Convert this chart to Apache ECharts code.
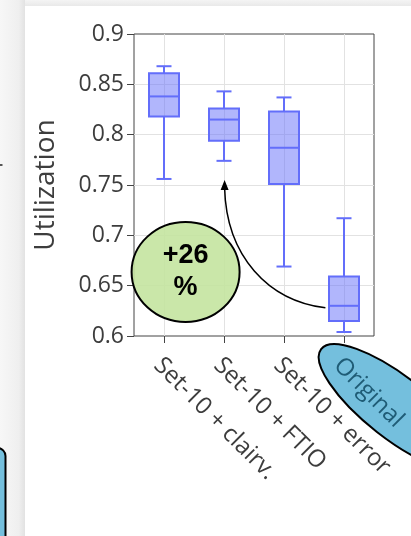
<!DOCTYPE html>
<html>
<head>
<meta charset="utf-8">
<script src="https://cdn.jsdelivr.net/npm/echarts@6/dist/echarts.min.js"></script>
<style>
  html, body { margin: 0; padding: 0; background: #fff; }
  #chart { width: 411px; height: 536px; }
</style>
</head>
<body>
<div id="chart"></div>
<script>
// Utilization per configuration (box plot statistics)
const categories = ['Set-10 + clairv.', 'Set-10 + FTIO', 'Set-10 + error', 'Original'];
const whiskerLow  = [0.756, 0.774, 0.669, 0.604];
const quartile1   = [0.818, 0.794, 0.751, 0.615];
const medians     = [0.838, 0.815, 0.787, 0.630];
const quartile3   = [0.861, 0.826, 0.823, 0.659];
const whiskerHigh = [0.868, 0.843, 0.837, 0.717];
const yTickLabels = ['0.6', '0.65', '0.7', '0.75', '0.8', '0.85', '0.9'];
const gainText = '+26\n%';

const FONT = '"Open Sans", sans-serif';
const TEXT = '#3d3d3d';
const LINE = '#636efa';
const FILL = 'rgba(99,110,250,0.5)';

const boxData = categories.map((c, i) =>
  [i, whiskerLow[i], quartile1[i], medians[i], quartile3[i], whiskerHigh[i]]);

function renderBox(params, api) {
  const i = api.value(0);
  const lo = api.coord([i, api.value(1)]);
  const q1 = api.coord([i, api.value(2)]);
  const md = api.coord([i, api.value(3)]);
  const q3 = api.coord([i, api.value(4)]);
  const hi = api.coord([i, api.value(5)]);
  const band = api.size([1, 0])[0];
  const half = band * 0.25;
  const cap = band * 0.125;
  const x = lo[0];
  const ls = { stroke: LINE, lineWidth: 2 };
  return {
    type: 'group',
    children: [
      { type: 'line', shape: { x1: x, y1: lo[1], x2: x, y2: q1[1] }, style: ls },
      { type: 'line', shape: { x1: x, y1: q3[1], x2: x, y2: hi[1] }, style: ls },
      { type: 'line', shape: { x1: x - cap, y1: lo[1], x2: x + cap, y2: lo[1] }, style: ls },
      { type: 'line', shape: { x1: x - cap, y1: hi[1], x2: x + cap, y2: hi[1] }, style: ls },
      { type: 'rect', shape: { x: x - half, y: q3[1], width: 2 * half, height: q1[1] - q3[1] },
        style: { fill: FILL, stroke: LINE, lineWidth: 2 } },
      { type: 'line', shape: { x1: x - half, y1: md[1], x2: x + half, y2: md[1] }, style: ls }
    ]
  };
}

const chart = echarts.init(document.getElementById('chart'), null, { renderer: 'canvas' });

chart.setOption({
  backgroundColor: '#ffffff',
  animation: false,
  grid: {
    left: 134, top: 34, width: 240, height: 302,
    containLabel: false, outerBoundsMode: 'none',
    show: true, borderColor: '#444', borderWidth: 1, backgroundColor: 'transparent'
  },
  xAxis: {
    type: 'category',
    data: categories.map(c => c === 'Original'
      ? { value: c, textStyle: { color: '#1f5c76' } }
      : c),
    axisLine: { show: false },
    axisTick: { show: true, alignWithLabel: true, length: 7, lineStyle: { color: '#444' } },
    axisLabel: {
      interval: 0, rotate: -45, margin: 32, padding: [0, 0, 0, -9],
      fontFamily: FONT, fontSize: 24, color: TEXT
    },
    splitLine: { show: true, alignWithLabel: true, lineStyle: { color: '#e2e2e2', width: 1 } }
  },
  yAxis: {
    type: 'value',
    min: 0.6, max: 0.9, interval: 0.05,
    name: 'Utilization',
    nameLocation: 'middle',
    nameGap: 74,
    nameTextStyle: { fontFamily: FONT, fontSize: 28, color: TEXT },
    axisLine: { show: false },
    axisTick: { show: true, length: 7, lineStyle: { color: '#444' } },
    axisLabel: {
      margin: 10, fontFamily: FONT, fontSize: 23, color: TEXT,
      formatter: v => yTickLabels[Math.round((v - 0.6) / 0.05)]
    },
    splitLine: { show: true, showMinLine: false, showMaxLine: false,
      lineStyle: { color: '#e2e2e2', width: 1 } }
  },
  series: [{
    type: 'custom',
    renderItem: renderBox,
    encode: { x: 0, y: [1, 2, 3, 4, 5] },
    data: boxData,
    z: 2
  }]
});

// Annotations anchored to the plot's data coordinates (fractional category positions)
function px(pos, val) {
  const i0 = Math.floor(pos);
  const a = chart.convertToPixel({ gridIndex: 0 }, [i0, val]);
  const b = chart.convertToPixel({ gridIndex: 0 }, [i0 + 1, val]);
  const t = pos - i0;
  return [a[0] + (b[0] - a[0]) * t, a[1]];
}
const gainCenter = px(0.36, 0.6636);
const arrowStart = px(2.69, 0.628);
const arrowCtrl1 = px(1.74, 0.635);
const arrowCtrl2 = px(1.04, 0.679);
const arrowTip = px(1.01, 0.755);

chart.setOption({
  graphic: [
    // page edge shading
    { type: 'rect', z: -20, shape: { x: 0, y: 0, width: 25, height: 536 },
      style: { fill: new echarts.graphic.LinearGradient(0, 0, 1, 0, [
        { offset: 0, color: '#f7f7f7' }, { offset: 0.75, color: '#efefef' }, { offset: 1, color: '#e2e2e2' }]) } },
    { type: 'rect', z: -20, shape: { x: 25, y: 0, width: 386, height: 6 },
      style: { fill: new echarts.graphic.LinearGradient(0, 0, 0, 1, [
        { offset: 0, color: '#f4f4f4' }, { offset: 1, color: '#e9e9e9' }]) } },
    { type: 'line', z: -19, shape: { x1: 0, y1: 165, x2: 2.5, y2: 165 },
      style: { stroke: '#222', lineWidth: 1.5 } },
    { type: 'rect', z: -19, shape: { x: -20, y: 448, width: 25.5, height: 120, r: 8 },
      style: { fill: '#74bfdd', stroke: '#000', lineWidth: 2 } },
    // highlight behind the "Original" label
    { type: 'ellipse', z: -10, x: 396, y: 407.5, rotation: -38 * Math.PI / 180,
      shape: { cx: 0, cy: 0, rx: 95, ry: 31 },
      style: { fill: '#74bfdd', stroke: '#000', lineWidth: 2 } },
    // gain badge
    { type: 'ellipse', z: 50, shape: { cx: gainCenter[0], cy: gainCenter[1], rx: 54, ry: 50 },
      style: { fill: 'rgba(196,228,160,0.9)', stroke: '#000', lineWidth: 2 } },
    { type: 'text', z: 51, x: gainCenter[0], y: gainCenter[1],
      style: { text: gainText, font: 'bold 27px "Liberation Sans", Arial, sans-serif',
        fill: '#000', align: 'center', verticalAlign: 'middle', lineHeight: 32 } },
    // curved arrow from Original to FTIO
    { type: 'bezierCurve', z: 50,
      shape: { x1: arrowStart[0], y1: arrowStart[1], cpx1: arrowCtrl1[0], cpy1: arrowCtrl1[1],
               cpx2: arrowCtrl2[0], cpy2: arrowCtrl2[1], x2: arrowTip[0], y2: arrowTip[1] + 8 },
      style: { stroke: '#000', lineWidth: 1.5, fill: null } },
    { type: 'polygon', z: 50,
      shape: { points: [[arrowTip[0], arrowTip[1]], [arrowTip[0] - 4, arrowTip[1] + 10], [arrowTip[0] + 4, arrowTip[1] + 10]] },
      style: { fill: '#000' } }
  ]
});
</script>
</body>
</html>
